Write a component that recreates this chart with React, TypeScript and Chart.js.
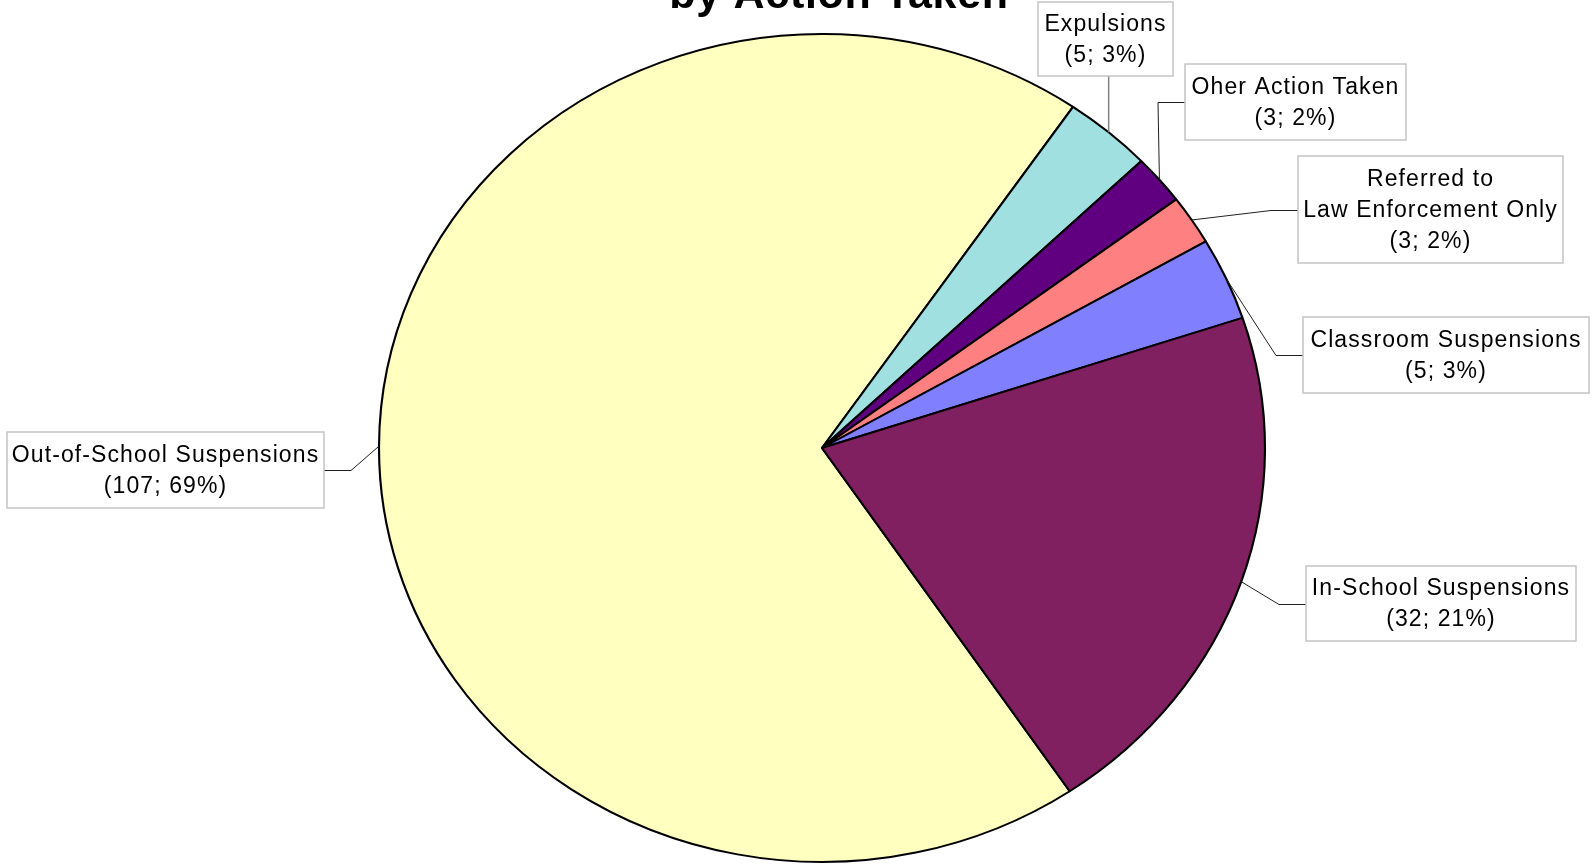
import React, { useEffect, useRef } from "react";
import { Chart, registerables } from "chart.js";

Chart.register(...registerables);

// ---- data ----
const categories = [
  "Out-of-School Suspensions",
  "Expulsions",
  "Oher Action Taken",
  "Referred to\nLaw Enforcement Only",
  "Classroom Suspensions",
  "In-School Suspensions",
];
const counts = [107, 5, 3, 3, 5, 32];
const sliceColors = ["#FFFFC0", "#A0E0E0", "#600080", "#FF8080", "#8080FF", "#802060"];
const titleText = "by Action Taken";

// ---- layout (styling only) ----
const ELLIPSE = { cx: 822, cy: 448, rx: 443, ry: 414 };
const labelBoxes = [
  { x: 7, y: 432, w: 317, h: 76, side: "right" },
  { x: 1038, y: 2, w: 135, h: 74, side: "bottom" },
  { x: 1185, y: 64, w: 221, h: 76, side: "left" },
  { x: 1298, y: 156, w: 265, h: 107, side: "left" },
  { x: 1303, y: 317, w: 286, h: 76, side: "left" },
  { x: 1306, y: 566, w: 270, h: 75, side: "left" },
];
const LABEL_FONT = '23px "Liberation Sans", Arial, sans-serif';
const LINE_H = 31;

function arcGeom(chart: any) {
  const arc = chart.getDatasetMeta(0).data[0];
  if (!arc) return null;
  return arc.getProps(["x", "y", "outerRadius"], true);
}

const ellipsePlugin = {
  id: "ellipse",
  beforeDatasetsDraw(chart: any) {
    const g = arcGeom(chart);
    const ctx = chart.ctx;
    ctx.save();
    if (!g) return;
    ctx.translate(ELLIPSE.cx, ELLIPSE.cy);
    ctx.scale(ELLIPSE.rx / g.outerRadius, ELLIPSE.ry / g.outerRadius);
    ctx.translate(-g.x, -g.y);
  },
  afterDatasetsDraw(chart: any) {
    chart.ctx.restore();
  },
};

const labelPlugin = {
  id: "boxLabels",
  afterDraw(chart: any) {
    const ctx = chart.ctx;
    const meta = chart.getDatasetMeta(0);
    const data: number[] = chart.data.datasets[0].data;
    const total = data.reduce((a, b) => a + b, 0);
    ctx.save();

    // title (partially cut off at top)
    ctx.font = 'bold 43px "Liberation Sans", Arial, sans-serif';
    (ctx as any).letterSpacing = "0.7px";
    ctx.fillStyle = "#000";
    ctx.textAlign = "center";
    ctx.textBaseline = "alphabetic";
    ctx.fillText(titleText, 839, 8);

    meta.data.forEach((el: any, i: number) => {
      const { startAngle, endAngle } = el.getProps(["startAngle", "endAngle"], true);
      const a = (startAngle + endAngle) / 2;
      const ax = ELLIPSE.cx + ELLIPSE.rx * Math.cos(a);
      const ay = ELLIPSE.cy + ELLIPSE.ry * Math.sin(a);
      const b = labelBoxes[i];
      const midY = Math.round(b.y + b.h / 2) + 0.5;

      // leader line
      ctx.strokeStyle = b.side === "bottom" ? "#808080" : "#202020";
      ctx.lineWidth = b.side === "bottom" ? 1.5 : 1;
      ctx.beginPath();
      ctx.moveTo(ax, ay);
      if (b.side === "right") {
        ctx.lineTo(b.x + b.w + 27, midY);
        ctx.lineTo(b.x + b.w, midY);
      } else if (b.side === "left") {
        ctx.lineTo(b.x - 27, midY);
        ctx.lineTo(b.x, midY);
      } else {
        ctx.lineTo(ax, b.y + b.h);
      }
      ctx.stroke();

      // box
      ctx.fillStyle = "#FFFFFF";
      ctx.fillRect(b.x, b.y, b.w, b.h);
      ctx.strokeStyle = "#C4C4C4";
      ctx.lineWidth = 1.5;
      ctx.strokeRect(b.x, b.y, b.w, b.h);

      // text
      const pct = Math.round((data[i] / total) * 100);
      const lines = String(chart.data.labels[i]).split("\n");
      lines.push(`(${data[i]}; ${pct}%)`);
      ctx.font = LABEL_FONT;
      (ctx as any).letterSpacing = "1.1px";
      ctx.fillStyle = "#000";
      ctx.textAlign = "center";
      ctx.textBaseline = "middle";
      const n = lines.length;
      lines.forEach((t, k) => {
        const y = b.y + b.h / 2 + (k - (n - 1) / 2) * LINE_H;
        ctx.fillText(t, b.x + b.w / 2, y + 1);
      });
    });
    ctx.restore();
  },
};

export default function App() {
  const ref = useRef<HTMLCanvasElement | null>(null);
  useEffect(() => {
    if (!ref.current) return;
    const chart = new Chart(ref.current, {
      type: "pie",
      data: {
        labels: categories,
        datasets: [
          {
            data: counts,
            backgroundColor: sliceColors,
            borderColor: "#000000",
            borderWidth: 2,
            clip: false as any,
          },
        ],
      },
      options: {
        animation: false,
        responsive: true,
        maintainAspectRatio: false,
        events: [],
        rotation: 146,
        layout: { padding: { top: 32, bottom: 0, left: 51, right: 0 } },
        plugins: {
          legend: { display: false },
          tooltip: { enabled: false },
          title: { display: false },
        },
      },
      plugins: [ellipsePlugin, labelPlugin],
    });
    return () => chart.destroy();
  }, []);
  return (
    <div style={{ position: "fixed", left: 0, top: 0, width: 1593, height: 864, background: "#fff" }}>
      <canvas ref={ref} />
    </div>
  );
}
